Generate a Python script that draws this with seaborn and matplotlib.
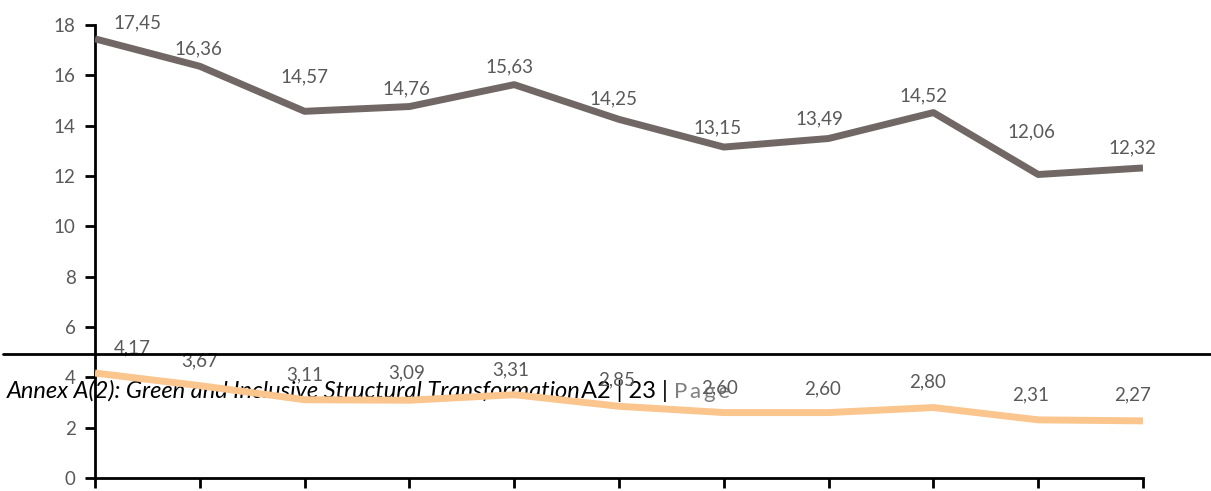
import matplotlib
matplotlib.use("Agg")
import matplotlib.pyplot as plt
import seaborn as sns
import pandas as pd
from matplotlib.lines import Line2D

# ---- data ----
positions = list(range(11))
series_top = [17.45, 16.36, 14.57, 14.76, 15.63, 14.25, 13.15, 13.49, 14.52, 12.06, 12.32]
series_bottom = [4.17, 3.67, 3.11, 3.09, 3.31, 2.85, 2.60, 2.60, 2.80, 2.31, 2.27]
y_ticks = [0, 2, 4, 6, 8, 10, 12, 14, 16, 18]

# label offsets in pixels (dx, dy) relative to each point
top_dx = [42, -1, 0, -3, -5, -6, -6, -9, -10, -7, -11]
top_dy = [16, 17, 34, 18, 18, 21, 19, 20, 17, 43, 20]
bot_dx = [37, 0, 0, -3, -3, -2, -4, -6, -6, -8, -10]
bot_dy = [25, 25, 25, 27, 25, 26, 25, 24, 26, 25, 26]

footer_italic = "Annex A(2): Green and Inclusive Structural Transformation"
footer_regular = "A2 | 23 | "
footer_page = "P\u2009a\u2009g\u2009e"

sns.set_style("ticks")
plt.rcParams["font.family"] = ["Lato", "DejaVu Sans"]

fig = plt.figure(figsize=(12.11, 4.91), dpi=100)
ax = fig.add_axes([95 / 1211, 13 / 491, (1143 - 95) / 1211, (478 - 25) / 491])

df = pd.DataFrame({"x": positions, "top": series_top, "bottom": series_bottom})
sns.lineplot(data=df, x="x", y="top", ax=ax, color="#716865", linewidth=5,
             solid_capstyle="butt", zorder=3)
sns.lineplot(data=df, x="x", y="bottom", ax=ax, color="#FBC58E", linewidth=5,
             solid_capstyle="butt", zorder=3)

label_color = "#595959"
for x, v, dx, dy in zip(positions, series_top, top_dx, top_dy):
    ax.annotate(f"{v:.2f}".replace(".", ","), xy=(x, v), xytext=(dx, dy),
                textcoords="offset pixels", ha="center", va="center",
                fontsize=13.5, color=label_color, zorder=4, annotation_clip=False)
for x, v, dx, dy in zip(positions, series_bottom, bot_dx, bot_dy):
    ax.annotate(f"{v:.2f}".replace(".", ","), xy=(x, v), xytext=(dx, dy),
                textcoords="offset pixels", ha="center", va="center",
                fontsize=13.5, color=label_color, zorder=4, annotation_clip=False)

ax.set_xlim(0, 10)
ax.set_ylim(0, 18)
ax.set_yticks(y_ticks)
ax.set_xticks(positions)
ax.set_xticklabels([""] * len(positions))
ax.set_xlabel("")
ax.set_ylabel("")
for s in ["top", "right"]:
    ax.spines[s].set_visible(False)
for s in ["left", "bottom"]:
    ax.spines[s].set_color("black")
    ax.spines[s].set_linewidth(2)
ax.tick_params(axis="y", direction="out", length=7, width=2, color="black",
               labelsize=13.5, labelcolor=label_color, pad=7)
ax.tick_params(axis="x", direction="out", length=7, width=2, color="black")

# footer overlay (page artifact)
fig.add_artist(Line2D([3 / 1211, 1.0], [(491 - 353.5) / 491] * 2, color="black",
                      linewidth=2, transform=fig.transFigure))
t1 = ax.text(7 / 1211, (491 - 398) / 491, footer_italic, transform=fig.transFigure,
             fontsize=17, style="italic", color="black", ha="left", va="baseline",
             zorder=1, clip_on=False)
t2 = ax.annotate(footer_regular, xy=(1, 0), xycoords=t1, ha="left", va="bottom",
                 fontsize=17, color="black", zorder=1, annotation_clip=False)
t3 = ax.annotate(footer_page, xy=(1, 0), xycoords=t2, ha="left", va="bottom",
                 fontsize=16, color="#7F7F7F", zorder=1, annotation_clip=False)

fig.savefig("out.png", dpi=100)
